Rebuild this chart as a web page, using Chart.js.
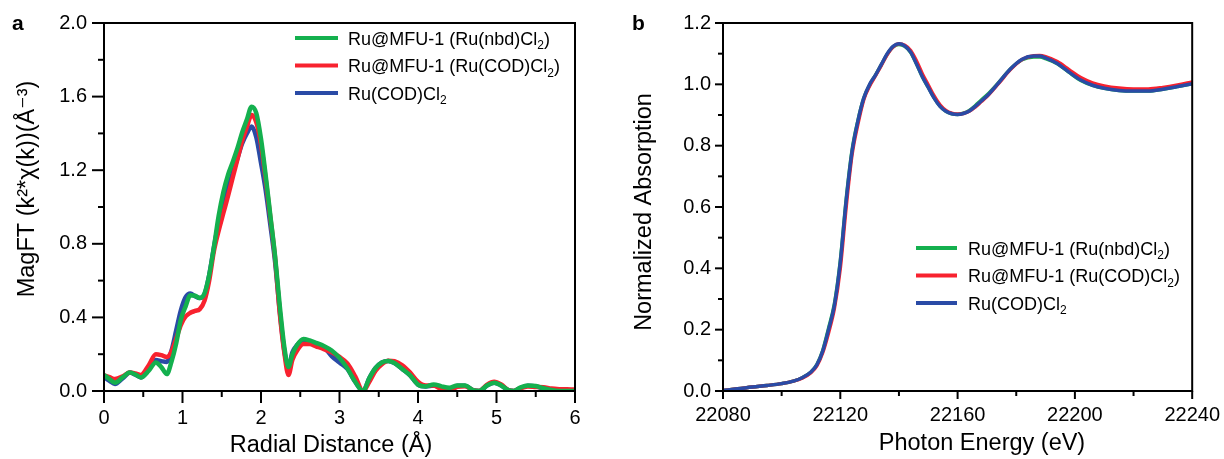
<!DOCTYPE html>
<html><head><meta charset="utf-8">
<script src="https://cdn.jsdelivr.net/npm/chart.js@4/dist/chart.umd.min.js"></script>
<style>
html,body{margin:0;padding:0;background:#fff;width:1224px;height:459px;overflow:hidden}
.p{position:absolute;top:0;width:612px;height:459px}
</style></head><body>
<div class="p" style="left:0"><canvas id="ca" width="612" height="459"></canvas></div>
<div class="p" style="left:612px"><canvas id="cb" width="612" height="459"></canvas></div>
<script>
const FONT = '"Liberation Sans", Arial, "DejaVu Sans", sans-serif';

// ---- shared labels ----
const seriesLabels = ['Ru@MFU-1 (Ru(nbd)Cl₂)', 'Ru@MFU-1 (Ru(COD)Cl₂)', 'Ru(COD)Cl₂'];
const seriesColors = ['#14b04e', '#f8222f', '#2a4ba6'];

// ---- panel a: FT magnitude ----
const radialDistance = [0, 0.07, 0.14, 0.24, 0.33, 0.40, 0.47, 0.57, 0.66, 0.73,
  0.80, 0.86, 0.92, 0.98, 1.04, 1.10, 1.16, 1.22, 1.28, 1.34,
  1.40, 1.46, 1.52, 1.58, 1.64, 1.70, 1.76, 1.82, 1.88, 1.94,
  2.00, 2.06, 2.12, 2.18, 2.24, 2.30, 2.35, 2.40, 2.46, 2.54,
  2.62, 2.70, 2.80, 2.90, 3.00, 3.10, 3.20, 3.30, 3.38, 3.46,
  3.54, 3.62, 3.70, 3.80, 3.90, 4.00, 4.10, 4.20, 4.30, 4.40,
  4.50, 4.60, 4.70, 4.78, 4.88, 4.97, 5.06, 5.15, 5.22, 5.30,
  5.40, 5.50, 5.60, 5.70, 5.80, 5.90, 6.00];
const magNbdMfu = [0.087, 0.065, 0.045, 0.075, 0.100, 0.090, 0.074, 0.110, 0.155, 0.130,
  0.092, 0.160, 0.260, 0.390, 0.460, 0.520, 0.518, 0.505, 0.530, 0.630,
  0.780, 0.950, 1.080, 1.175, 1.245, 1.320, 1.405, 1.475, 1.545, 1.510,
  1.370, 1.170, 0.950, 0.730, 0.460, 0.230, 0.130, 0.200, 0.250, 0.283,
  0.275, 0.262, 0.245, 0.220, 0.180, 0.123, 0.050, 0.000, 0.070, 0.125,
  0.155, 0.163, 0.152, 0.120, 0.085, 0.035, 0.025, 0.036, 0.025, 0.018,
  0.030, 0.030, 0.005, 0.000, 0.030, 0.045, 0.030, 0.005, 0.000, 0.018,
  0.030, 0.027, 0.015, 0.005, 0.000, 0.000, 0.000];
const magCodMfu = [0.085, 0.075, 0.065, 0.080, 0.100, 0.095, 0.087, 0.140, 0.200, 0.195,
  0.185, 0.215, 0.285, 0.360, 0.405, 0.425, 0.435, 0.445, 0.490, 0.600,
  0.760, 0.870, 0.966, 1.060, 1.160, 1.260, 1.360, 1.435, 1.500, 1.460,
  1.340, 1.150, 0.940, 0.720, 0.420, 0.200, 0.087, 0.170, 0.220, 0.255,
  0.255, 0.243, 0.228, 0.210, 0.185, 0.150, 0.080, 0.000, 0.050, 0.110,
  0.145, 0.165, 0.162, 0.140, 0.100, 0.050, 0.030, 0.030, 0.008, 0.000,
  0.022, 0.026, 0.005, 0.000, 0.035, 0.050, 0.035, 0.005, 0.000, 0.015,
  0.025, 0.022, 0.020, 0.013, 0.010, 0.009, 0.008];
const magCod = [0.075, 0.055, 0.038, 0.070, 0.100, 0.088, 0.074, 0.120, 0.168, 0.162,
  0.158, 0.220, 0.330, 0.440, 0.510, 0.530, 0.515, 0.505, 0.525, 0.630,
  0.780, 0.915, 1.020, 1.105, 1.185, 1.265, 1.345, 1.400, 1.437, 1.380,
  1.240, 1.090, 0.900, 0.700, 0.430, 0.210, 0.130, 0.210, 0.250, 0.275,
  0.270, 0.258, 0.240, 0.190, 0.155, 0.120, 0.050, 0.000, 0.070, 0.125,
  0.155, 0.163, 0.152, 0.120, 0.085, 0.035, 0.025, 0.030, 0.015, 0.005,
  0.028, 0.028, 0.005, 0.000, 0.030, 0.045, 0.030, 0.005, 0.000, 0.015,
  0.028, 0.025, 0.012, 0.003, 0.000, 0.000, 0.000];
const aXMajorTicks = [0, 1, 2, 3, 4, 5, 6];
const aYMajorTicks = [0.0, 0.4, 0.8, 1.2, 1.6, 2.0];

// ---- panel b: XANES ----
const photonEnergy = [22080, 22085, 22090, 22095, 22100, 22104, 22107, 22110, 22112, 22114,
  22116, 22118, 22120, 22122, 22124, 22126, 22128, 22130, 22132, 22134,
  22136, 22138, 22140, 22142, 22144, 22146, 22148, 22150, 22152, 22154,
  22156, 22158, 22160, 22162, 22164, 22166, 22168, 22170, 22174, 22178,
  22182, 22186, 22188, 22190, 22194, 22198, 22202, 22206, 22210, 22215,
  22220, 22225, 22230, 22235, 22240];
const absNbdMfu = [0.002, 0.007, 0.013, 0.018, 0.024, 0.032, 0.043, 0.062, 0.086, 0.132,
  0.205, 0.285, 0.425, 0.625, 0.785, 0.882, 0.955, 0.998, 1.030, 1.064,
  1.098, 1.122, 1.130, 1.124, 1.104, 1.066, 1.024, 0.990, 0.956, 0.929,
  0.912, 0.904, 0.902, 0.906, 0.915, 0.930, 0.948, 0.965, 1.006, 1.050,
  1.080, 1.089, 1.089, 1.084, 1.067, 1.039, 1.013, 0.997, 0.987, 0.980,
  0.978, 0.978, 0.984, 0.993, 1.002];
const absCodMfu = [0.002, 0.007, 0.013, 0.018, 0.024, 0.032, 0.042, 0.060, 0.082, 0.125,
  0.190, 0.270, 0.400, 0.600, 0.770, 0.870, 0.950, 0.995, 1.028, 1.062,
  1.097, 1.122, 1.132, 1.127, 1.110, 1.076, 1.034, 0.998, 0.962, 0.933,
  0.915, 0.906, 0.903, 0.905, 0.912, 0.926, 0.943, 0.960, 1.003, 1.048,
  1.081, 1.093, 1.094, 1.090, 1.074, 1.048, 1.022, 1.005, 0.995, 0.988,
  0.985, 0.985, 0.990, 0.998, 1.008];
const absCod = [0.002, 0.007, 0.013, 0.018, 0.024, 0.032, 0.043, 0.062, 0.085, 0.130,
  0.200, 0.280, 0.420, 0.620, 0.780, 0.880, 0.955, 1.000, 1.030, 1.065,
  1.100, 1.124, 1.132, 1.125, 1.105, 1.066, 1.025, 0.990, 0.955, 0.928,
  0.912, 0.904, 0.902, 0.905, 0.913, 0.928, 0.945, 0.962, 1.005, 1.050,
  1.082, 1.092, 1.092, 1.086, 1.068, 1.040, 1.014, 0.997, 0.987, 0.980,
  0.978, 0.978, 0.984, 0.993, 1.002];
const bXMajorTicks = [22080, 22120, 22160, 22200, 22240];
const bYMajorTicks = [0.0, 0.2, 0.4, 0.6, 0.8, 1.0, 1.2];

function isMajor(v, list) { return list.some(m => Math.abs(m - v) < 1e-6); }

// draws frame, tick marks, axis titles, panel letter and legend
const framePlugin = {
  id: 'frame',
  afterDraw(chart, args, o) {
    const { ctx, chartArea: a } = chart;
    ctx.save();
    ctx.strokeStyle = '#000';
    ctx.lineWidth = 2;
    ctx.lineCap = 'butt';
    ctx.strokeRect(a.left, a.top, a.right - a.left, a.bottom - a.top);
    for (const id of ['x', 'y']) {
      const s = chart.scales[id];
      s.ticks.forEach(t => {
        const major = t.label !== '';
        const len = major ? o.tickMajor : o.tickMinor;
        const p = s.getPixelForValue(t.value);
        ctx.beginPath();
        if (id === 'x') { ctx.moveTo(p, a.bottom); ctx.lineTo(p, a.bottom + len); }
        else { ctx.moveTo(a.left, p); ctx.lineTo(a.left - len, p); }
        ctx.stroke();
      });
    }
    ctx.fillStyle = '#000';
    ctx.font = o.titleSize + 'px ' + FONT;
    ctx.textAlign = 'center';
    ctx.textBaseline = 'middle';
    ctx.fillText(o.xTitle, o.xTitlePos[0], o.xTitlePos[1]);
    ctx.save();
    ctx.translate(o.yTitlePos[0], o.yTitlePos[1]);
    ctx.rotate(-Math.PI / 2);
    ctx.fillText(o.yTitle, 0, 0);
    ctx.restore();
    ctx.font = 'bold 21px ' + FONT;
    ctx.textAlign = 'left';
    ctx.textBaseline = 'alphabetic';
    ctx.fillText(o.letter, o.letterPos[0], o.letterPos[1]);
    // legend
    const L = o.legend;
    chart.data.datasets.forEach((ds, i) => {
      const y = L.y + i * L.dy;
      ctx.strokeStyle = ds.borderColor;
      ctx.lineWidth = 4;
      ctx.beginPath();
      ctx.moveTo(L.x, y); ctx.lineTo(L.x + L.len, y);
      ctx.stroke();
      ctx.fillStyle = '#000';
      ctx.textBaseline = 'middle';
      let x = L.textX;
      const parts = ds.label.split('₂');
      parts.forEach((part, k) => {
        ctx.font = L.size + 'px ' + FONT;
        ctx.fillText(part, x, y + 2);
        x += ctx.measureText(part).width;
        if (k < parts.length - 1) {
          ctx.font = Math.round(L.size * 0.68) + 'px ' + FONT;
          ctx.fillText('2', x, y + 8);
          x += ctx.measureText('2').width;
        }
      });
    });
    ctx.restore();
  }
};

function makeChart(id, cfg) {
  return new Chart(document.getElementById(id), {
    type: 'line',
    data: {
      datasets: cfg.series.map((vals, i) => ({
        label: seriesLabels[i],
        data: cfg.x.map((xv, j) => ({ x: xv, y: vals[j] })),
        borderColor: seriesColors[i],
        borderWidth: cfg.lw,
        pointRadius: 0,
        cubicInterpolationMode: 'monotone',
        fill: false,
        order: cfg.order[i]
      }))
    },
    options: {
      responsive: false, animation: false, events: [], devicePixelRatio: 1,
      layout: { padding: cfg.padding },
      plugins: { legend: { display: false }, tooltip: { enabled: false }, frame: cfg.frame },
      scales: {
        x: {
          type: 'linear', min: cfg.xMin, max: cfg.xMax,
          afterFit: s => { s.height = cfg.xAxisH; },
          grid: { display: true, drawOnChartArea: false, drawTicks: true, tickLength: cfg.frame.tickMajor, tickColor: 'rgba(0,0,0,0)' },
          border: { display: false },
          ticks: {
            stepSize: cfg.xStep, autoSkip: false, maxRotation: 0, padding: cfg.xPad, color: '#000',
            font: { size: 20, family: FONT },
            callback: v => isMajor(v, cfg.xMajor) ? String(Math.round(v)) : ''
          }
        },
        y: {
          type: 'linear', min: cfg.yMin, max: cfg.yMax,
          afterFit: s => { s.width = cfg.yAxisW; },
          grid: { display: true, drawOnChartArea: false, drawTicks: true, tickLength: cfg.frame.tickMajor, tickColor: 'rgba(0,0,0,0)' },
          border: { display: false },
          ticks: {
            stepSize: cfg.yStep, autoSkip: false, padding: cfg.yPad, color: '#000',
            font: { size: 20, family: FONT },
            callback: v => isMajor(v, cfg.yMajor) ? v.toFixed(1) : ''
          }
        }
      }
    },
    plugins: [framePlugin]
  });
}

makeChart('ca', {
  x: radialDistance, series: [magNbdMfu, magCodMfu, magCod], order: [0, 1, 2], lw: 4.5,
  xMin: 0, xMax: 6, xStep: 0.5, xMajor: aXMajorTicks,
  yMin: 0, yMax: 2.0, yStep: 0.2, yMajor: aYMajorTicks,
  padding: { left: 0, top: 23, right: 37, bottom: 0 }, xAxisH: 68, yAxisW: 104,
  xPad: 3, yPad: 5,
  frame: {
    tickMajor: 12, tickMinor: 6, titleSize: 23.5,
    xTitle: 'Radial Distance (Å)', xTitlePos: [331, 446],
    yTitle: 'MagFT (k²*χ(k))(Å⁻³)', yTitlePos: [28, 189],
    letter: 'a', letterPos: [12, 30],
    legend: { x: 295, len: 43, textX: 348, y: 38, dy: 27.5, size: 18 }
  }
});

makeChart('cb', {
  x: photonEnergy, series: [absNbdMfu, absCodMfu, absCod], order: [2, 1, 0], lw: 3.5,
  xMin: 22080, xMax: 22240, xStep: 20, xMajor: bXMajorTicks,
  yMin: 0, yMax: 1.2, yStep: 0.1, yMajor: bYMajorTicks,
  padding: { left: 0, top: 23, right: 28, bottom: 0 }, xAxisH: 68, yAxisW: 111,
  xPad: 4, yPad: 4,
  frame: {
    tickMajor: 8, tickMinor: 5, titleSize: 23.5,
    xTitle: 'Photon Energy (eV)', xTitlePos: [370, 444],
    yTitle: 'Normalized Absorption', yTitlePos: [33, 212],
    letter: 'b', letterPos: [20, 30],
    legend: { x: 304, len: 41, textX: 356, y: 248, dy: 27.5, size: 18 }
  }
});
</script>
</body></html>
